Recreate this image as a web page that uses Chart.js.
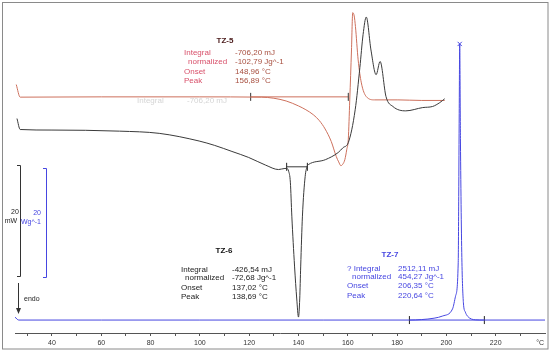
<!DOCTYPE html>
<html>
<head>
<meta charset="utf-8">
<script src="https://cdn.jsdelivr.net/npm/chart.js@4.4.0/dist/chart.umd.min.js"></script>
<style>
  html, body { margin: 0; padding: 0; background: #fff; }
</style>
</head>
<body>
<canvas id="myChart" width="550" height="352"></canvas>
<script>
// DSC curves, temperature in °C, heat flow in mW (curves stacked with offsets)
const tz5Temp = [25.5, 27.1, 60, 100, 125, 130, 135, 140, 143, 146, 148.5, 150.8, 153.3, 155.3, 156.3, 157.2, 158.0, 158.8, 159.6, 160.2, 160.8, 161.5, 162.0, 162.6, 163.1, 164.2, 165.5, 167.5, 170.9, 180.3, 190, 199.3];
const tz5Heat = [45.3, 43.0, 43.05, 43.05, 43.0, 42.8, 42.3, 41.4, 40.7, 39.8, 38.7, 37.2, 34.9, 32.2, 31.2, 30.5, 30.8, 31.6, 33.5, 35.3, 42.5, 51.6, 58.4, 57.8, 55.9, 49.8, 45.6, 43.1, 42.5, 42.5, 42.4, 42.4];

const tz6Temp = [25.8, 27.1, 40, 67.4, 83.5, 99.7, 106, 113.0, 119.8, 126.7, 131.9, 134.5, 135.2, 136.0, 136.7, 137.3, 138.4, 139.3, 140.0, 140.5, 140.9, 141.6, 142.7, 143.6, 144.0, 150.9, 156.1, 158.1, 160.2, 163.0, 164.9, 166.2, 167.5, 169.4, 171.5, 173.1, 175.5, 178.3, 183.5, 190.4, 194.4, 197.3, 199.3];
const tz6Heat = [39.1, 37.1, 37.0, 36.8, 36.4, 35.0, 34.2, 33.1, 32.0, 30.6, 29.8, 30.0, 30.0, 29.5, 27.5, 21.3, 12.2, 6.2, 2.9, 6.2, 12.2, 21.3, 28.5, 30.5, 30.7, 31.6, 32.9, 33.8, 34.7, 40.7, 48.4, 54.4, 57.6, 51.6, 47.1, 49.5, 43.1, 41.3, 40.5, 41.1, 41.3, 42.0, 42.7];

const tz7Temp = [25.0, 26.5, 60, 100, 150, 185, 190, 195, 198.5, 202.5, 203.7, 204.8, 205.0, 205.2, 205.4, 205.7, 206.0, 206.3, 206.9, 207.7, 208.5, 211.8, 215, 240];
const tz7Heat = [2.9, 2.36, 2.36, 2.36, 2.36, 2.36, 2.45, 2.7, 3.1, 4.4, 6.7, 12.9, 24.9, 40, 52.7, 35, 22, 12.9, 5.5, 3.8, 3.1, 2.4, 2.36, 2.36];

// integration limits and baseline levels
const tz5Limits = [120.6, 160.2];
const tz5Base = 43.05;
const tz6Limits = [135.2, 143.6];
const tz6Base = 30.3;
const tz7Limits = [185, 215.4];
const tz7Base = 2.36;
const tz7PeakTemp = 205.4;
const tz7PeakHeat = 52.7;

const xTickValues = [30, 40, 50, 60, 70, 80, 90, 100, 110, 120, 130, 140, 150, 160, 170, 180, 190, 200, 210, 220, 230, 238];
const xTickLabels = ['', '40', '', '60', '', '80', '', '100', '', '120', '', '140', '', '160', '', '180', '', '200', '', '220', '', '°C'];

const FONT = '"Liberation Sans", Arial, sans-serif';
const RED = 'rgb(205,112,92)';
const BLACK = '#3a3a3a';
const BLUE = 'rgb(70,70,225)';

const pts = (xs, ys) => xs.map((x, i) => ({ x: x, y: ys[i] }));
const flat = (lims, level) => lims.map(x => ({ x: x, y: level }));

const annotations = {
  id: 'annotations',
  afterDraw(chart) {
    const c = chart.ctx;
    c.save();
    // frame
    c.strokeStyle = '#8a8a8a';
    c.lineWidth = 1;
    c.strokeRect(2.5, 2.5, 545.5, 346.5);

    const text = (s, x, y, color, size, bold, align) => {
      c.font = (bold ? 'bold ' : '') + size + 'px ' + FONT;
      c.fillStyle = color;
      c.textAlign = align || 'left';
      c.textBaseline = 'middle';
      c.fillText(s, x, y);
    };

    // faint ghost text
    text('Integral', 137, 101, 'rgba(160,160,160,0.45)', 8);
    text('-706,20 mJ', 187, 101, 'rgba(160,160,160,0.45)', 8);

    // TZ-5 block
    text('TZ-5', 225, 41, '#4a1a1a', 8, true, 'center');
    const r1 = '#d8506a', r2 = '#a85040';
    text('Integral', 184, 53, r1, 8);
    text('normalized', 188, 62, r1, 8);
    text('Onset', 184, 71.5, r1, 8);
    text('Peak', 184, 81, r1, 8);
    text('-706,20 mJ', 235, 53, r2, 8);
    text('-102,79 Jg^-1', 235, 62, r2, 8);
    text('148,96 °C', 235, 71.5, r2, 8);
    text('156,89 °C', 235, 81, r2, 8);

    // TZ-6 block
    text('TZ-6', 224, 251, '#111', 8, true, 'center');
    const k = '#222';
    text('Integral', 181, 269.5, k, 8);
    text('normalized', 185, 278, k, 8);
    text('Onset', 181, 287.5, k, 8);
    text('Peak', 181, 296.5, k, 8);
    text('-426,54 mJ', 232, 269.5, k, 8);
    text('-72,68 Jg^-1', 232, 278, k, 8);
    text('137,02 °C', 232, 287.5, k, 8);
    text('138,69 °C', 232, 296.5, k, 8);

    // TZ-7 block
    text('TZ-7', 390, 255, BLUE, 8, true, 'center');
    text('? Integral', 347, 268.5, BLUE, 8);
    text('normalized', 352, 277, BLUE, 8);
    text('Onset', 347, 286, BLUE, 8);
    text('Peak', 347, 295.5, BLUE, 8);
    text('2512,11 mJ', 398, 268.5, BLUE, 8);
    text('454,27 Jg^-1', 398, 277, BLUE, 8);
    text('206,35 °C', 398, 286, BLUE, 8);
    text('220,64 °C', 398, 295.5, BLUE, 8);

    // scale bars
    c.lineWidth = 1;
    c.strokeStyle = '#333';
    c.beginPath();
    c.moveTo(17, 165.5); c.lineTo(20.5, 165.5); c.lineTo(20.5, 276.5); c.lineTo(17, 276.5);
    c.stroke();
    text('20', 15, 212, '#222', 7, false, 'center');
    text('mW', 11, 221, '#222', 7, false, 'center');

    c.strokeStyle = BLUE;
    c.beginPath();
    c.moveTo(43, 168.5); c.lineTo(46.5, 168.5); c.lineTo(46.5, 277.5); c.lineTo(43, 277.5);
    c.stroke();
    text('20', 41, 213, BLUE, 7, false, 'right');
    text('Wg^-1', 41, 222, BLUE, 7, false, 'right');

    // endo arrow
    c.strokeStyle = '#333';
    c.fillStyle = '#333';
    c.beginPath();
    c.moveTo(18.5, 283); c.lineTo(18.5, 310);
    c.stroke();
    c.beginPath();
    c.moveTo(16, 308); c.lineTo(21, 308); c.lineTo(18.5, 314); c.closePath();
    c.fill();
    text('endo', 24, 299, '#222', 7);

    c.restore();
  }
};

const ctx = document.getElementById('myChart').getContext('2d');
const myChart = new Chart(ctx, {
  type: 'line',
  data: {
    datasets: [
      { data: pts(tz7Temp, tz7Heat), borderColor: BLUE, borderWidth: 1, pointRadius: 0, cubicInterpolationMode: 'monotone' },
      { data: pts(tz6Temp, tz6Heat), borderColor: BLACK, borderWidth: 1, pointRadius: 0, cubicInterpolationMode: 'monotone' },
      { data: pts(tz5Temp, tz5Heat), borderColor: RED, borderWidth: 1, pointRadius: 0, cubicInterpolationMode: 'monotone' },
      { data: flat(tz5Limits, tz5Base), borderColor: RED, borderWidth: 1, pointStyle: 'line', rotation: 90, pointRadius: 4, pointBorderColor: '#333' },
      { data: flat(tz6Limits, tz6Base), borderColor: BLACK, borderWidth: 1, pointStyle: 'line', rotation: 90, pointRadius: 4, pointBorderColor: '#222' },
      { data: flat(tz7Limits, tz7Base), borderColor: BLUE, borderWidth: 1, pointStyle: 'line', rotation: 90, pointRadius: 4, pointBorderColor: '#222' },
      { data: [{ x: tz7PeakTemp, y: tz7PeakHeat }], showLine: false, pointStyle: 'crossRot', pointRadius: 3, pointBorderColor: BLUE, pointBorderWidth: 1 }
    ]
  },
  options: {
    responsive: false,
    animation: false,
    devicePixelRatio: 1,
    layout: { padding: { left: 15, right: 2, top: 5, bottom: 0 } },
    plugins: { legend: { display: false }, tooltip: { enabled: false } },
    elements: { line: { fill: false } },
    scales: {
      x: {
        type: 'linear',
        min: 25,
        max: 240,
        afterBuildTicks: s => { s.ticks = xTickValues.map(v => ({ value: v })); },
        afterFit: s => { s.height = 19; },
        border: { display: true, color: '#555', width: 1 },
        grid: {
          drawOnChartArea: false,
          drawTicks: true,
          tickLength: 3,
          tickColor: c => (c.index === xTickValues.length - 1 ? 'rgba(0,0,0,0)' : '#555')
        },
        ticks: {
          autoSkip: false,
          maxRotation: 0,
          padding: 3,
          color: '#333',
          font: { family: FONT, size: 7 },
          callback: (v, i) => xTickLabels[i]
        }
      },
      y: { display: false, min: 0, max: 59.8 }
    }
  },
  plugins: [annotations]
});
</script>
</body>
</html>
